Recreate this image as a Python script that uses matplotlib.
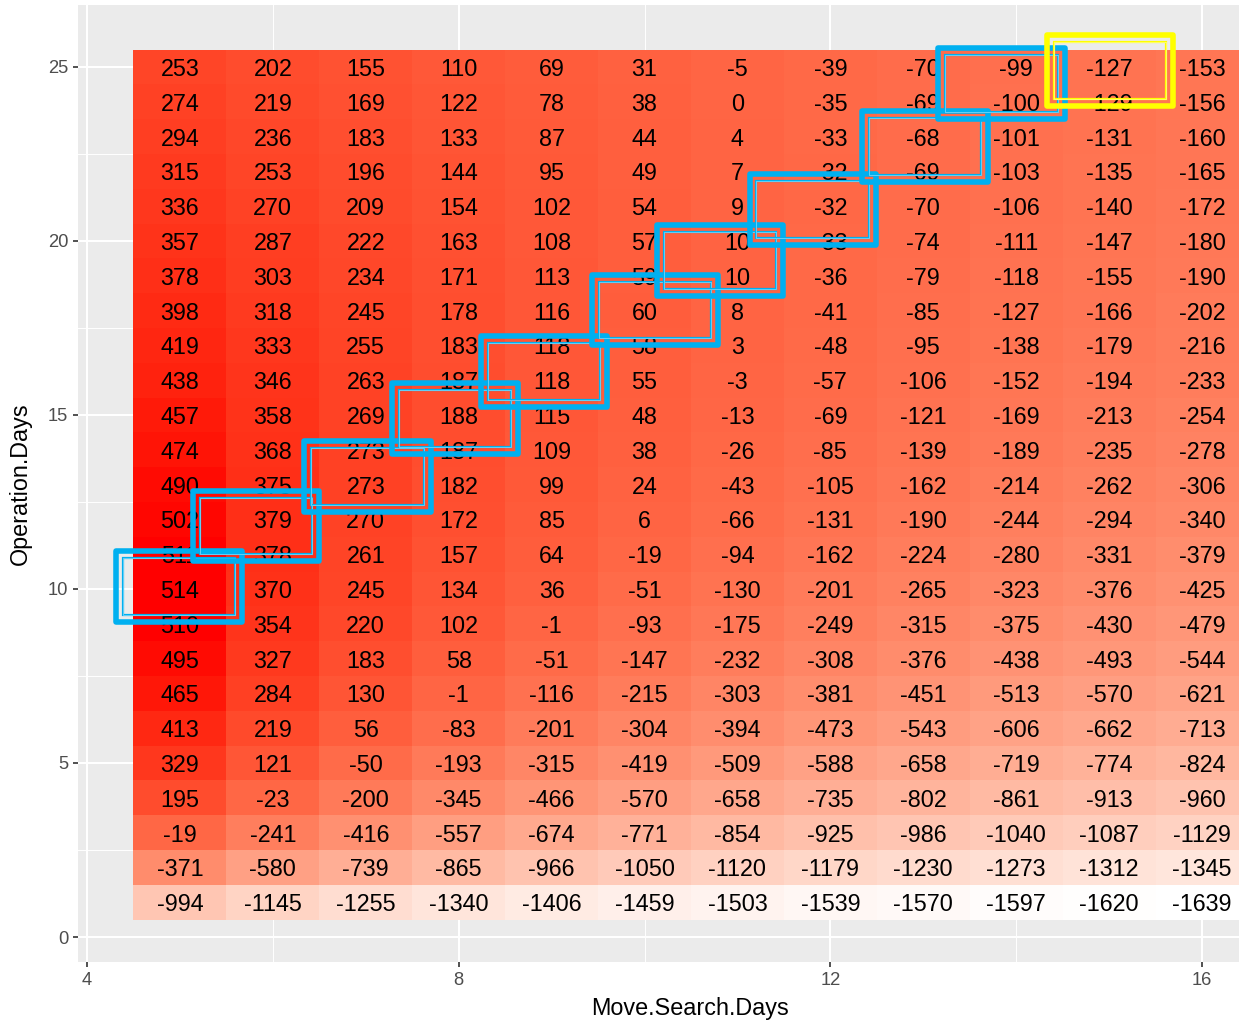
import numpy as np
import matplotlib
matplotlib.use("Agg")
import matplotlib.pyplot as plt
from matplotlib.colors import ListedColormap, Normalize
from matplotlib.patches import Rectangle
from matplotlib.transforms import offset_copy

plt.rcParams['font.family'] = ['Liberation Sans', 'DejaVu Sans']

# ---- data ----
move_search_days = [5, 6, 7, 8, 9, 10, 11, 12, 13, 14, 15, 16]
operation_days = list(range(1, 26))

# values per Move.Search.Days column, Operation.Days 1..25 (bottom to top)
vals_5 = [-994, -371, -19, 195, 329, 413, 465, 495, 510, 514, 511, 502, 490, 474, 457, 438, 419, 398, 378, 357, 336, 315, 294, 274, 253]
vals_6 = [-1145, -580, -241, -23, 121, 219, 284, 327, 354, 370, 378, 379, 375, 368, 358, 346, 333, 318, 303, 287, 270, 253, 236, 219, 202]
vals_7 = [-1255, -739, -416, -200, -50, 56, 130, 183, 220, 245, 261, 270, 273, 273, 269, 263, 255, 245, 234, 222, 209, 196, 183, 169, 155]
vals_8 = [-1340, -865, -557, -345, -193, -83, -1, 58, 102, 134, 157, 172, 182, 187, 188, 187, 183, 178, 171, 163, 154, 144, 133, 122, 110]
vals_9 = [-1406, -966, -674, -466, -315, -201, -116, -51, -1, 36, 64, 85, 99, 109, 115, 118, 118, 116, 113, 108, 102, 95, 87, 78, 69]
vals_10 = [-1459, -1050, -771, -570, -419, -304, -215, -147, -93, -51, -19, 6, 24, 38, 48, 55, 58, 60, 59, 57, 54, 49, 44, 38, 31]
vals_11 = [-1503, -1120, -854, -658, -509, -394, -303, -232, -175, -130, -94, -66, -43, -26, -13, -3, 3, 8, 10, 10, 9, 7, 4, 0, -5]
vals_12 = [-1539, -1179, -925, -735, -588, -473, -381, -308, -249, -201, -162, -131, -105, -85, -69, -57, -48, -41, -36, -33, -32, -32, -33, -35, -39]
vals_13 = [-1570, -1230, -986, -802, -658, -543, -451, -376, -315, -265, -224, -190, -162, -139, -121, -106, -95, -85, -79, -74, -70, -69, -68, -69, -70]
vals_14 = [-1597, -1273, -1040, -861, -719, -606, -513, -438, -375, -323, -280, -244, -214, -189, -169, -152, -138, -127, -118, -111, -106, -103, -101, -100, -99]
vals_15 = [-1620, -1312, -1087, -913, -774, -662, -570, -493, -430, -376, -331, -294, -262, -235, -213, -194, -179, -166, -155, -147, -140, -135, -131, -129, -127]
vals_16 = [-1639, -1345, -1129, -960, -824, -713, -621, -544, -479, -425, -379, -340, -306, -278, -254, -233, -216, -202, -190, -180, -172, -165, -160, -156, -153]

x_ticks = [4, 8, 12, 16]
y_ticks = [0, 5, 10, 15, 20, 25]

# annotation boxes (centers, in data units)
blue_box_x = [4.99, 5.82, 7.02, 7.96, 8.92, 10.11, 10.81, 11.81, 13.02, 13.84]
blue_box_y = [10.07, 11.81, 13.23, 14.90, 16.24, 18.02, 19.43, 20.90, 22.72, 24.53]
yellow_box_x = [15.01]
yellow_box_y = [24.90]

columns = [vals_5, vals_6, vals_7, vals_8, vals_9, vals_10, vals_11, vals_12,
           vals_13, vals_14, vals_15, vals_16]
Z = np.array(columns).T  # rows = operation days, cols = move search days

# ---- white -> red gradient interpolated in Lab (like ggplot) ----
def srgb_to_lab(rgb):
    rgb = np.asarray(rgb, float)
    lin = np.where(rgb <= 0.04045, rgb / 12.92, ((rgb + 0.055) / 1.055) ** 2.4)
    M = np.array([[0.4124, 0.3576, 0.1805], [0.2126, 0.7152, 0.0722], [0.0193, 0.1192, 0.9505]])
    xyz = M @ lin
    wp = np.array([0.95047, 1.0, 1.08883])
    t = xyz / wp
    f = np.where(t > 0.008856, np.cbrt(t), 7.787 * t + 16 / 116)
    return np.array([116 * f[1] - 16, 500 * (f[0] - f[1]), 200 * (f[1] - f[2])])

def lab_to_srgb(lab):
    L, a, b = lab
    fy = (L + 16) / 116
    fx = fy + a / 500
    fz = fy - b / 200
    def finv(f):
        return np.where(f ** 3 > 0.008856, f ** 3, (f - 16 / 116) / 7.787)
    wp = np.array([0.95047, 1.0, 1.08883])
    xyz = np.array([finv(fx), finv(fy), finv(fz)]) * wp
    Minv = np.array([[3.2406, -1.5372, -0.4986], [-0.9689, 1.8758, 0.0415], [0.0557, -0.2040, 1.0570]])
    lin = Minv @ xyz
    lin = np.clip(lin, 0, 1)
    rgb = np.where(lin <= 0.0031308, 12.92 * lin, 1.055 * lin ** (1 / 2.4) - 0.055)
    return np.clip(rgb, 0, 1)

lab_lo = srgb_to_lab([1, 1, 1])
lab_hi = srgb_to_lab([1, 0, 0])
cols = [lab_to_srgb(lab_lo + (lab_hi - lab_lo) * t) for t in np.linspace(0, 1, 256)]
cmap = ListedColormap(cols)

# ---- figure ----
W, H = 1239, 1023
fig = plt.figure(figsize=(W / 100, H / 100), dpi=100)
ax = fig.add_axes([78 / W, (H - 962) / H, 1 - 78 / W, (962 - 5) / H])
ax.set_facecolor('#EBEBEB')

xs = np.array(move_search_days)
ys = np.array(operation_days)
xe = np.concatenate([xs - 0.5, [xs[-1] + 0.5]])
ye = np.concatenate([ys - 0.5, [ys[-1] + 0.5]])
ax.pcolormesh(xe, ye, Z, cmap=cmap, norm=Normalize(Z.min(), Z.max()), zorder=2, edgecolors='none')

txt_tr = offset_copy(ax.transData, fig=fig, x=0, y=-2.5, units='dots')
for j, xv in enumerate(move_search_days):
    for i, yv in enumerate(operation_days):
        ax.text(xv, yv, str(Z[i, j]), ha='center', va='center', fontsize=16.8,
                color='black', zorder=3, transform=txt_tr)

ax.set_xlim(3.903, 16.398)
ax.set_ylim(-0.718, 26.78)
ax.set_xticks(x_ticks)
ax.set_yticks(y_ticks)
ax.set_xticks([6, 10, 14], minor=True)
ax.set_yticks([2.5, 7.5, 12.5, 17.5, 22.5], minor=True)
ax.grid(which='major', color='white', linewidth=1.5, zorder=1)
ax.grid(which='minor', color='white', linewidth=0.7, zorder=1)
ax.set_axisbelow(True)
for s in ax.spines.values():
    s.set_visible(False)
ax.tick_params(which='major', length=3.5, width=1.2, color='#333333', labelsize=13.2,
               labelcolor='#4D4D4D', pad=3.5)
ax.tick_params(which='minor', length=0)

fig.text(690 / W, 1 - 1008 / H, 'Move.Search.Days', ha='center', va='center', fontsize=16.8)
fig.text(20 / W, 1 - 484 / H, 'Operation.Days', ha='center', va='center', fontsize=16.8,
         rotation=90)

bw, bh = 1.36, 2.03
def draw_box(cx, cy, color):
    ax.add_patch(Rectangle((cx - bw / 2, cy - bh / 2), bw, bh, fill=False,
                           edgecolor=color, linewidth=4.0, zorder=5, joinstyle='round'))
    ix, iy = 0.075, 0.2
    ax.add_patch(Rectangle((cx - bw / 2 + ix, cy - bh / 2 + iy), bw - 2 * ix, bh - 2 * iy,
                           fill=False, edgecolor=color, linewidth=1.6, zorder=5))
    ax.add_patch(Rectangle((cx - bw / 2 + ix, cy - bh / 2 + iy), bw - 2 * ix, bh - 2 * iy,
                           fill=False, edgecolor='white', linewidth=0.4, alpha=0.7, zorder=5))

for cx, cy in zip(blue_box_x, blue_box_y):
    draw_box(cx, cy, '#00B0F0')
for cx, cy in zip(yellow_box_x, yellow_box_y):
    draw_box(cx, cy, '#FFFF00')

fig.savefig('out.png', dpi=100)
